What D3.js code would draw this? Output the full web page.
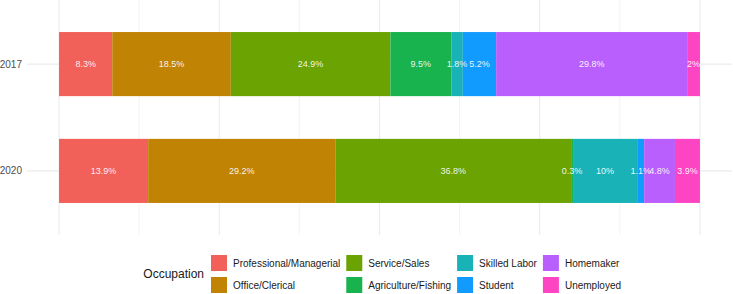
<!DOCTYPE html>
<html>
<head>
<meta charset="utf-8">
<script src="https://cdn.jsdelivr.net/npm/d3@7"></script>
<style>
  body { margin: 0; background: #fff; }
  svg { font-family: "Liberation Sans", Arial, sans-serif; display: block; }
</style>
</head>
<body>
<div id="chart"></div>
<script>
// data
const years = ["2017", "2020"]
const occupations = ["Professional/Managerial", "Office/Clerical", "Service/Sales", "Agriculture/Fishing",
                     "Skilled Labor", "Student", "Homemaker", "Unemployed"]
const colors = ["#F2605A", "#C18304", "#6AA302", "#18B24F", "#19B2B7", "#129BFE", "#B95FFD", "#FD44C3"]
const values2017 = [8.3, 18.5, 24.9, 9.5, 1.8, 5.2, 29.8, 2]
const values2020 = [13.9, 29.2, 36.8, 0.3, 10, 1.1, 4.8, 3.9]
const gridTicks = [0, 12.5, 25, 37.5, 50, 62.5, 75, 87.5, 100]

const WIDTH = 733, HEIGHT = 294
const PANEL = { LEFT: 27, RIGHT: 732, TOP: 0, BOTTOM: 235 }

const rows = years.map((y, i) => {
    const vals = i === 0 ? values2017 : values2020
    const r = { year: y }
    occupations.forEach((o, j) => r[o] = vals[j])
    return r
})

const series = d3.stack().keys(occupations)(rows)

const svg = d3.select("#chart").append("svg")
    .attr("width", WIDTH)
    .attr("height", HEIGHT)

// scales
const x = d3.scaleLinear()
    .domain([-5, 105])
    .range([PANEL.LEFT, PANEL.RIGHT])

const y = d3.scalePoint()
    .domain(years)
    .range([PANEL.TOP, PANEL.BOTTOM])
    .padding(0.6)

const barH = y.step() * 0.6

const color = d3.scaleOrdinal()
    .domain(occupations)
    .range(colors)

// grid
svg.append("g").selectAll("line.v")
    .data(gridTicks)
    .enter().append("line")
    .attr("x1", d => x(d)).attr("x2", d => x(d))
    .attr("y1", PANEL.TOP).attr("y2", PANEL.BOTTOM)
    .attr("stroke", "#ebebeb")
    .attr("stroke-width", (d, i) => i % 2 ? 0.6 : 1.1)

svg.append("g").selectAll("line.h")
    .data(years)
    .enter().append("line")
    .attr("x1", PANEL.LEFT).attr("x2", PANEL.RIGHT)
    .attr("y1", d => y(d)).attr("y2", d => y(d))
    .attr("stroke", "#ebebeb")
    .attr("stroke-width", 1.1)

// bars
svg.append("g").selectAll("g")
    .data(series)
    .enter().append("g")
    .attr("fill", d => color(d.key))
    .selectAll("rect")
    .data(d => d)
    .enter().append("rect")
    .attr("x", d => x(d[0]))
    .attr("width", d => x(d[1]) - x(d[0]))
    .attr("y", d => y(d.data.year) - barH / 2)
    .attr("height", barH)

// labels (drawn after all bars so nothing covers them)
svg.append("g").selectAll("g")
    .data(series)
    .enter().append("g")
    .selectAll("text")
    .data(d => d)
    .enter().append("text")
    .attr("x", d => x((d[0] + d[1]) / 2))
    .attr("y", d => y(d.data.year))
    .attr("dy", "0.35em")
    .attr("text-anchor", "middle")
    .attr("font-size", 9)
    .attr("fill", "#ffffff")
    .attr("fill-opacity", 0.92)
    .text(d => (d[1] - d[0]).toFixed(1).replace(/\.0$/, "") + "%")

// y axis labels
svg.append("g").selectAll("text")
    .data(years)
    .enter().append("text")
    .attr("x", 22)
    .attr("y", d => y(d))
    .attr("dy", "0.35em")
    .attr("text-anchor", "end")
    .attr("font-size", 10)
    .attr("fill", "#4d4d4d")
    .text(d => d)

// legend
const legend = svg.append("g")
const KEY = 16, GAP = 6, ROWS = 2
const title = legend.append("text")
    .attr("x", 0).attr("y", 0)
    .attr("dy", "0.35em")
    .attr("font-size", 12)
    .attr("fill", "#1a1a1a")
    .text("Occupation")
const titleW = title.node().getComputedTextLength()

let colX = titleW + 7
const ncol = Math.ceil(occupations.length / ROWS)
for (let c = 0; c < ncol; c++) {
    const items = occupations.slice(c * ROWS, c * ROWS + ROWS)
    let maxW = 0
    items.forEach((o, r) => {
        const cy = (r - 0.5) * 22
        legend.append("rect")
            .attr("x", colX).attr("y", cy - KEY / 2)
            .attr("width", KEY).attr("height", KEY)
            .attr("fill", color(o))
        const t = legend.append("text")
            .attr("x", colX + KEY + GAP)
            .attr("y", cy)
            .attr("dy", "0.35em")
            .attr("font-size", 10)
            .attr("fill", "#1a1a1a")
            .text(o)
        maxW = Math.max(maxW, t.node().getComputedTextLength())
    })
    colX += KEY + GAP + maxW + GAP
}
// put the first key where the reference has it
legend.attr("transform", `translate(${211 - (titleW + 7)}, 274)`)
</script>
</body>
</html>
